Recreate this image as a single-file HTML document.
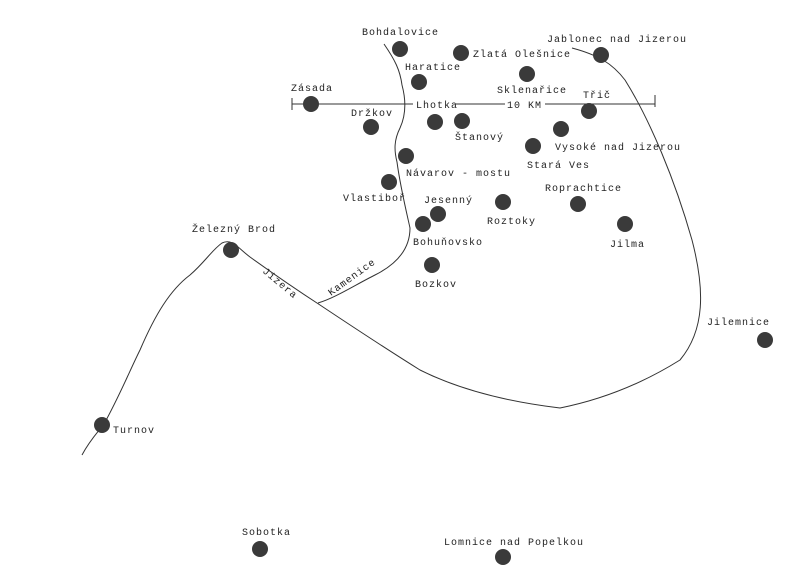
<!DOCTYPE html>
<html><head><meta charset="utf-8"><style>
html,body{margin:0;padding:0;background:#fff;}
svg{display:block;}
text{font-family:"Liberation Mono","DejaVu Sans Mono",monospace;font-size:10px;fill:#222;letter-spacing:1px;}
</style></head><body>
<svg width="800" height="581" viewBox="0 0 800 581" xmlns="http://www.w3.org/2000/svg">
<rect width="800" height="581" fill="#fff"/>
<g fill="none" stroke="#333" stroke-width="1">
<!-- Jizera -->
<path d="M82,455 C90,440 98,432 104,424 C120,395 130,370 140,350 C155,315 170,290 190,275 C205,262 212,250 222,243 C232,238 238,248 250,257 C275,275 300,292 320,305 C350,325 380,345 420,370 C460,390 510,402 560,408 C600,400 640,385 680,360 C705,330 705,290 692,240 C675,180 650,120 625,80 C612,63 598,55 572,48"/>
<!-- Kamenice -->
<path d="M384,44 C395,60 400,70 402,85 C406,100 406,115 400,128 C394,140 394,150 397,162 C400,185 406,210 410,228 C410,250 395,265 375,275 C355,285 335,298 318,303"/>
<!-- scale -->
<path d="M292,104 L413,104 M456,104 L505,104 M545,104 L655,104 M292,98 L292,110 M655,95 L655,107"/>
</g>
<g fill="#3a3a3a">
<circle cx="400" cy="49" r="8"/><circle cx="461" cy="53" r="8"/><circle cx="601" cy="55" r="8"/>
<circle cx="419" cy="82" r="8"/><circle cx="527" cy="74" r="8"/><circle cx="311" cy="104" r="8"/>
<circle cx="589" cy="111" r="8"/><circle cx="371" cy="127" r="8"/><circle cx="435" cy="122" r="8"/>
<circle cx="462" cy="121" r="8"/><circle cx="561" cy="129" r="8"/><circle cx="533" cy="146" r="8"/>
<circle cx="406" cy="156" r="8"/><circle cx="389" cy="182" r="8"/><circle cx="503" cy="202" r="8"/>
<circle cx="578" cy="204" r="8"/><circle cx="438" cy="214" r="8"/><circle cx="423" cy="224" r="8"/>
<circle cx="625" cy="224" r="8"/><circle cx="432" cy="265" r="8"/><circle cx="231" cy="250" r="8"/>
<circle cx="765" cy="340" r="8"/><circle cx="102" cy="425" r="8"/><circle cx="260" cy="549" r="8"/>
<circle cx="503" cy="557" r="8"/>
</g>
<text x="362" y="35">Bohdalovice</text>
<text x="473" y="57">Zlatá Olešnice</text>
<text x="547" y="42">Jablonec nad Jizerou</text>
<text x="405" y="70">Haratice</text>
<text x="497" y="93">Sklenařice</text>
<text x="291" y="91">Zásada</text>
<text x="583" y="98">Třič</text>
<text x="416" y="108">Lhotka</text>
<text x="507" y="108">10 KM</text>
<text x="351" y="116">Držkov</text>
<text x="455" y="140">Štanový</text>
<text x="555" y="150">Vysoké nad Jizerou</text>
<text x="527" y="168">Stará Ves</text>
<text x="406" y="176">Návarov - mostu</text>
<text x="343" y="201">Vlastiboř</text>
<text x="424" y="203">Jesenný</text>
<text x="545" y="191">Roprachtice</text>
<text x="487" y="224">Roztoky</text>
<text x="413" y="245">Bohuňovsko</text>
<text x="610" y="247">Jilma</text>
<text x="415" y="287">Bozkov</text>
<text x="192" y="232">Železný Brod</text>
<text x="707" y="325">Jilemnice</text>
<text x="113" y="433">Turnov</text>
<text x="242" y="535">Sobotka</text>
<text x="444" y="545">Lomnice nad Popelkou</text>
<text x="262" y="272" transform="rotate(40 262 272)">Jizera</text>
<text x="331" y="296" transform="rotate(-36 331 296)">Kamenice</text>
</svg>
</body></html>
